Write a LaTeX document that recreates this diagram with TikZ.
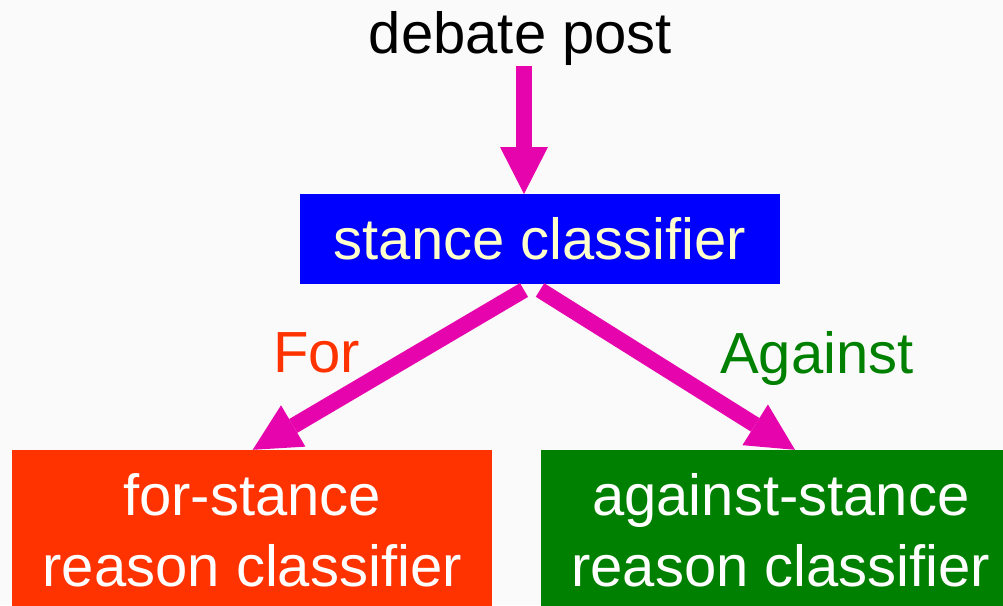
\documentclass[tikz,border=0pt]{standalone}
\usepackage{fontspec}
\setmainfont{Liberation Sans}
\usetikzlibrary{arrows.meta}
\definecolor{bgc}{HTML}{FAFAFA}
\definecolor{arrc}{HTML}{E605AD}
\definecolor{boxblue}{HTML}{0000FF}
\definecolor{boxred}{HTML}{FF3300}
\definecolor{boxgreen}{HTML}{008000}
\definecolor{paleyellow}{HTML}{FFFFCC}
\tikzset{
  every node/.style={font=\fontsize{58}{70.7}\selectfont, inner sep=0pt, outer sep=0pt},
  flowarrow/.style={draw=arrc, line width=16pt, line cap=butt,
    -{Triangle[length=47pt,width=48pt,line width=0pt]}},
  boxnode/.style={rectangle, minimum width=480pt, align=center, text=white},
}
\begin{document}
\begin{tikzpicture}[x=1pt,y=-1pt]
\useasboundingbox (0,0) rectangle (1003,605);
\fill[bgc] (0,0) rectangle (1003,605);
\begin{scope}
\clip (0,0) rectangle (1003,605);
\node[anchor=base] (post) at (520.5,53) {debate post};
\node[rectangle, fill=boxblue, text=paleyellow, minimum width=480pt, minimum height=90pt] (stance) at (540,239) {stance classifier};
\node[boxnode, fill=boxred, minimum height=161pt] (forbox) at (252.2,530.3) {for-stance\\reason classifier};
\node[boxnode, fill=boxgreen, minimum height=161pt] (againstbox) at (780.8,530.3) {against-stance\\reason classifier};
\node[anchor=base, text=boxred] (forlbl) at (316.5,372.7) {For};
\node[anchor=base, text=boxgreen] (againstlbl) at (817,373.3) {Against};
\draw[flowarrow] ([xshift=3.5pt,yshift=-1pt]post.south) -- ([xshift=-16pt]stance.north);
\draw[flowarrow] ([xshift=-16pt,yshift=-6pt]stance.south) -- ([xshift=0.5pt]forbox.north);
\draw[flowarrow] ([xshift=0pt,yshift=-6pt]stance.south) -- ([xshift=14.2pt]againstbox.north);
\end{scope}
\end{tikzpicture}
\end{document}
